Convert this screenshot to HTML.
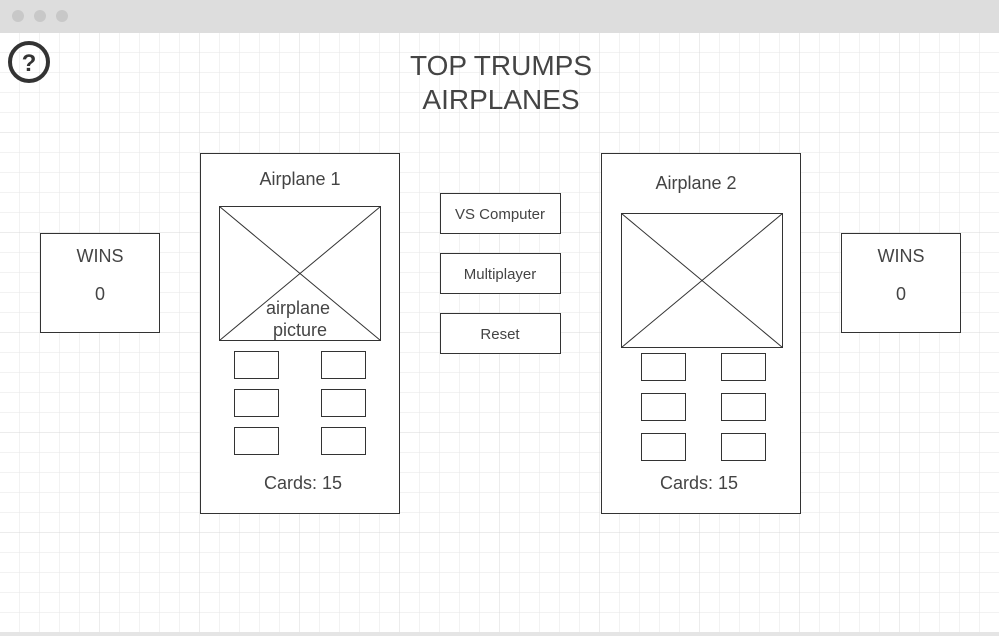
<!DOCTYPE html>
<html><head><style>
body{margin:0;width:999px;height:636px;overflow:hidden;background:#fff;font-family:"Liberation Sans",sans-serif}
</style></head><body>
<svg width="999" height="636" xmlns="http://www.w3.org/2000/svg" font-family="Liberation Sans, sans-serif" fill="#444">
<defs>
<pattern id="g" x="0" y="13" width="20" height="20" patternUnits="userSpaceOnUse"><path d="M20 0V20M0 20H20" stroke="#e6e6e6" stroke-width="1" fill="none"/></pattern>
<pattern id="G" x="0" y="33" width="100" height="100" patternUnits="userSpaceOnUse"><path d="M100 0V100M0 100H100" stroke="#d8d8d8" stroke-width="1" fill="none"/></pattern>
</defs>
<rect x="0" y="33" width="999" height="603" fill="url(#g)"/>
<rect x="0" y="33" width="999" height="603" fill="url(#G)"/>
<rect x="0" y="0" width="999" height="33" fill="#dddddd"/>
<circle cx="18" cy="16" r="6" fill="#c8c8c8"/><circle cx="40" cy="16" r="6" fill="#c8c8c8"/><circle cx="62" cy="16" r="6" fill="#c8c8c8"/>
<rect x="0" y="632" width="999" height="4" fill="#e5e5e5"/>
<circle cx="29" cy="62" r="19" fill="none" stroke="#333" stroke-width="4"/>
<text x="29" y="71" text-anchor="middle" font-size="24" font-weight="bold" fill="#333">?</text>
<text x="501" y="75" text-anchor="middle" font-size="28">TOP TRUMPS</text>
<text x="501" y="109" text-anchor="middle" font-size="28">AIRPLANES</text>
<g fill="#fff" stroke="#333" stroke-width="1">
<rect x="40.5" y="233.5" width="119" height="99"/>
<rect x="841.5" y="233.5" width="119" height="99"/>
<rect x="200.5" y="153.5" width="199" height="360"/>
<rect x="601.5" y="153.5" width="199" height="360"/>
<rect x="440.5" y="193.5" width="120" height="40"/>
<rect x="440.5" y="253.5" width="120" height="40"/>
<rect x="440.5" y="313.5" width="120" height="40"/>
<rect x="219.5" y="206.5" width="161" height="134"/>
<path d="M219.5 206.5L380.5 340.5M380.5 206.5L219.5 340.5"/>
<rect x="621.5" y="213.5" width="161" height="134"/>
<path d="M621.5 213.5L782.5 347.5M782.5 213.5L621.5 347.5"/>
<rect x="234.5" y="351.5" width="44" height="27"/><rect x="321.5" y="351.5" width="44" height="27"/>
<rect x="234.5" y="389.5" width="44" height="27"/><rect x="321.5" y="389.5" width="44" height="27"/>
<rect x="234.5" y="427.5" width="44" height="27"/><rect x="321.5" y="427.5" width="44" height="27"/>
<rect x="641.5" y="353.5" width="44" height="27"/><rect x="721.5" y="353.5" width="44" height="27"/>
<rect x="641.5" y="393.5" width="44" height="27"/><rect x="721.5" y="393.5" width="44" height="27"/>
<rect x="641.5" y="433.5" width="44" height="27"/><rect x="721.5" y="433.5" width="44" height="27"/>
</g>
<g text-anchor="middle" font-size="18">
<text x="100" y="262">WINS</text><text x="100" y="300">0</text>
<text x="901" y="262">WINS</text><text x="901" y="300">0</text>
<text x="300" y="185">Airplane 1</text>
<text x="696" y="189">Airplane 2</text>
<text x="298" y="314">airplane</text><text x="300" y="336">picture</text>
<text x="303" y="489">Cards: 15</text>
<text x="699" y="489">Cards: 15</text>
<text x="500" y="219" font-size="15">VS Computer</text>
<text x="500" y="279" font-size="15">Multiplayer</text>
<text x="500" y="339" font-size="15">Reset</text>
</g>
</svg>
</body></html>
